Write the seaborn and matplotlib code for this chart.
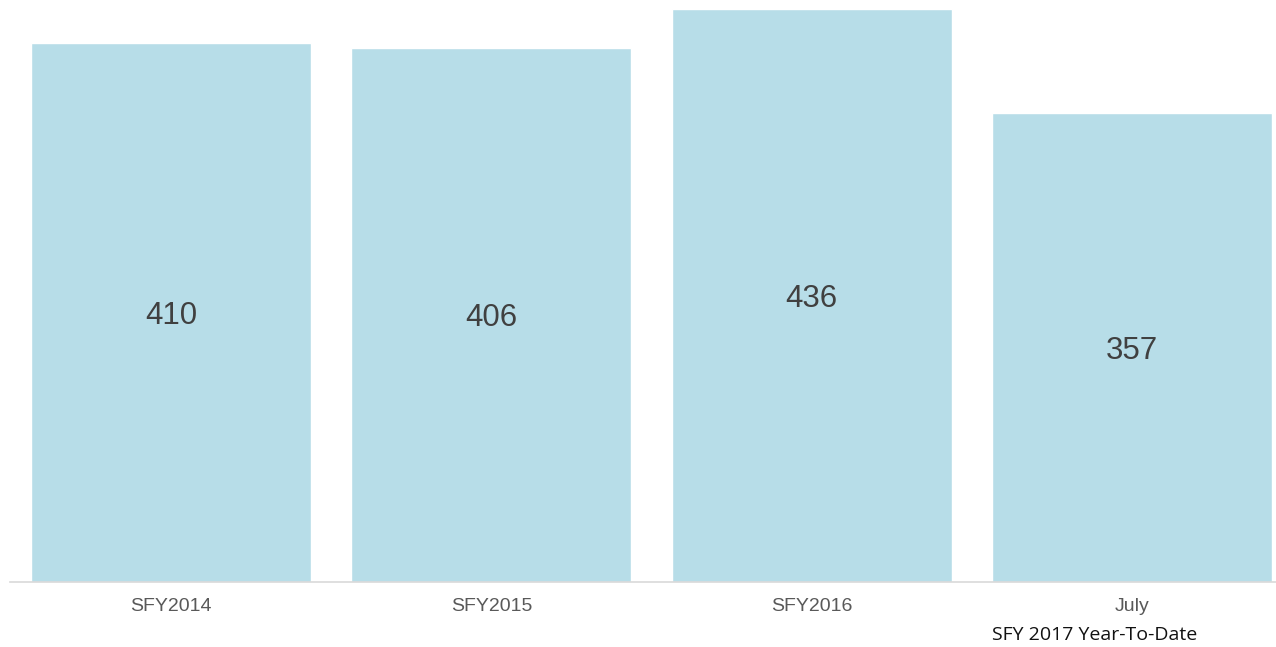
import matplotlib
matplotlib.use('Agg')
import matplotlib.pyplot as plt
import seaborn as sns
import pandas as pd

# 数据
categories = ['SFY2014', 'SFY2015', 'SFY2016', 'July']
values = [410, 406, 436, 357]
extra_label = 'SFY 2017 Year-To-Date'

df = pd.DataFrame({'period': categories, 'count': values})

sns.set_style('white')
plt.rcParams['font.family'] = ['Liberation Sans', 'DejaVu Sans']

fig = plt.figure(figsize=(12.76, 6.47), dpi=100)
ax = fig.add_axes([10 / 1276, 65 / 647, 1266 / 1276, 582 / 647])

sns.barplot(data=df, x='period', y='count', color='#B7DDE8', saturation=1,
            width=0.874, ax=ax)

labels = ax.bar_label(ax.containers[0], label_type='center', fontsize=22.5, color='#404040')
for t in labels:
    t.xyann = (0, -2.3)   # 数字略往下挪一点

ax.set_xlim(-0.5026, 3.4495)
ax.set_ylim(0, 442.9)
ax.set_xlabel('')
ax.set_ylabel('')
ax.set_yticks([])

for s in ['top', 'left', 'right']:
    ax.spines[s].set_visible(False)
ax.spines['bottom'].set_color('#D9D9D9')
ax.spines['bottom'].set_linewidth(1.2)

ax.tick_params(axis='x', length=0, pad=11.5, labelsize=14, labelcolor='#595959')

# 第二行标签
ax.text(3 - 0.437, -40, extra_label, fontsize=14, color='#111111',
        family=['Open Sans', 'DejaVu Sans'], ha='left', va='center')

fig.savefig('out.png', dpi=100)
